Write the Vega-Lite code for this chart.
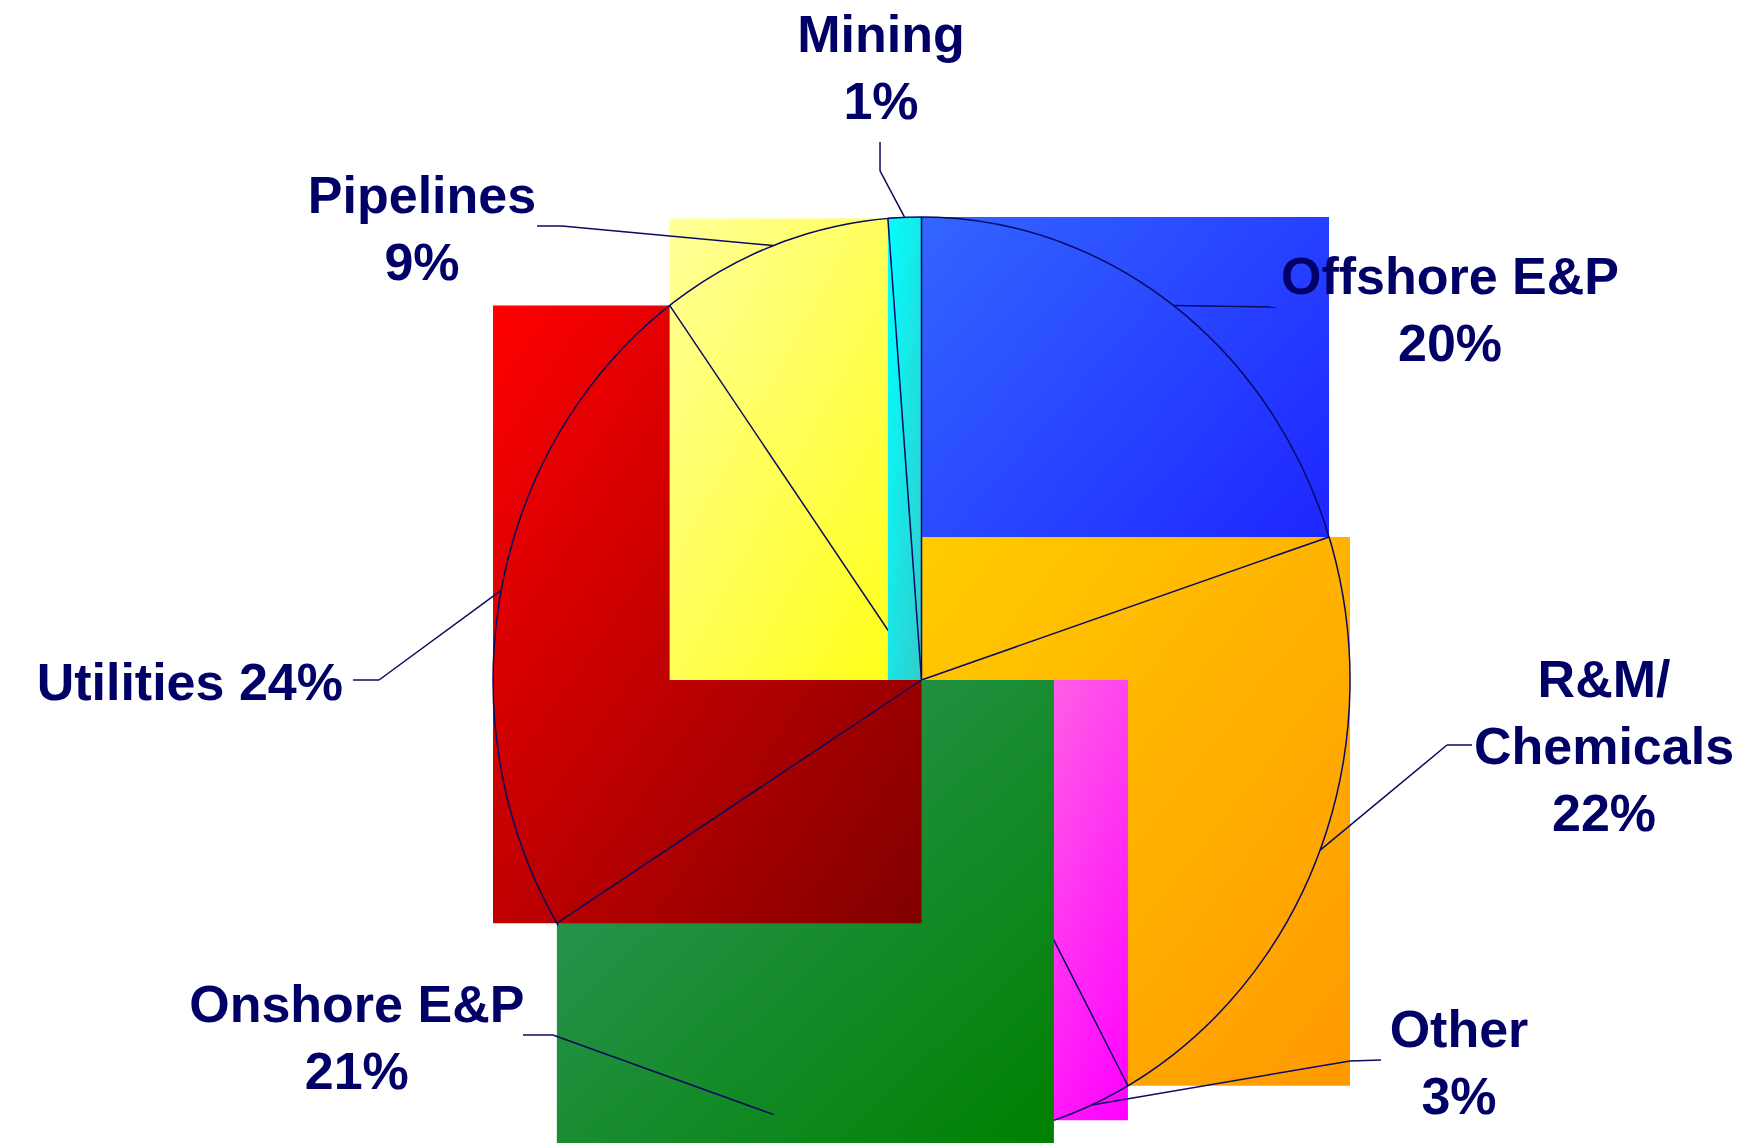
{
  "$schema": "https://vega.github.io/schema/vega-lite/v6.json",
  "width": 1745,
  "height": 1143,
  "padding": 0,
  "autosize": {"type": "none"},
  "background": "white",
  "config": {"view": {"stroke": null}},
  "datasets": {
    "slices": [
      {"slice": "Offshore E&P", "order": 1, "value": 20, "label": "Offshore E&P|20%", "lx": 1.2334, "ly": 0.8337, "ex": 0.8273, "ey": 0.8056, "hx": 0.8273, "hy": 0.8056},
      {"slice": "R&M/Chemicals", "order": 2, "value": 22, "label": "R&M/|Chemicals|22%", "lx": 1.5928, "ly": -0.0367, "ex": 1.2264, "ey": -0.1404, "hx": 1.2847, "hy": -0.1404},
      {"slice": "Other", "order": 3, "value": 3, "label": "Other|3%", "lx": 1.2544, "ly": -0.7927, "ex": 1.0, "ey": -0.8229, "hx": 1.0723, "hy": -0.8207},
      {"slice": "Onshore E&P", "order": 4, "value": 21.2, "label": "Onshore E&P|21%", "lx": -1.3179, "ly": -0.7387, "ex": -0.86, "ey": -0.7667, "hx": -0.93, "hy": -0.7667},
      {"slice": "Utilities", "order": 5, "value": 23.8, "label": "Utilities 24%", "lx": -1.3501, "ly": -0.0432, "ex": -1.266, "ey": 0, "hx": -1.3268, "hy": 0},
      {"slice": "Pipelines", "order": 6, "value": 8.75, "label": "Pipelines|9%", "lx": -1.1657, "ly": 1.0086, "ex": -0.839, "ey": 0.9806, "hx": -0.8973, "hy": 0.9806},
      {"slice": "Mining", "order": 7, "value": 1.25, "label": "Mining|1%", "lx": -0.0945, "ly": 1.3564, "ex": -0.0968, "ey": 1.0994, "hx": -0.0968, "hy": 1.162}
    ]
  },
  "data": {"name": "slices"},
  "transform": [
    {"window": [{"op": "sum", "field": "value", "as": "cum"}], "sort": [{"field": "order", "order": "ascending"}], "frame": [null, 0]},
    {"calculate": "(datum.cum - datum.value) * PI / 50", "as": "a0"},
    {"calculate": "datum.cum * PI / 50", "as": "a1"},
    {"calculate": "min(0, sin(datum.a0), sin(datum.a1), (datum.a0 < 1.5 * PI && datum.a1 > 1.5 * PI) ? -1 : 0)", "as": "bx0"},
    {"calculate": "max(0, sin(datum.a0), sin(datum.a1), (datum.a0 < 0.5 * PI && datum.a1 > 0.5 * PI) ? 1 : 0)", "as": "bx1"},
    {"calculate": "min(0, cos(datum.a0), cos(datum.a1), (datum.a0 < PI && datum.a1 > PI) ? -1 : 0)", "as": "by0"},
    {"calculate": "max(0, cos(datum.a0), cos(datum.a1))", "as": "by1"},
    {"calculate": "sin(datum.a0)", "as": "sx0"},
    {"calculate": "cos(datum.a0)", "as": "sy0"},
    {"calculate": "sin((datum.a0 + datum.a1) / 2)", "as": "mx"},
    {"calculate": "cos((datum.a0 + datum.a1) / 2)", "as": "my"},
    {"calculate": "0", "as": "c0"}
  ],
  "layer": [
    {
      "transform": [{"filter": {"field": "slice", "equal": "Offshore E&P"}}],
      "mark": {"type": "rect", "fill": {"gradient": "linear", "x1": 0, "y1": 0, "x2": 1, "y2": 1, "stops": [{"offset": 0, "color": "#3366ff"}, {"offset": 1, "color": "#1a1aff"}]}},
      "encoding": {
        "x": {"field": "bx0", "type": "quantitative", "scale": {"domain": [-2.15053, 1.92182], "nice": false, "zero": false}, "axis": null},
        "x2": {"field": "bx1"},
        "y": {"field": "by0", "type": "quantitative", "scale": {"domain": [-1.0, 1.46868], "nice": false, "zero": false}, "axis": null},
        "y2": {"field": "by1"}
      }
    },
    {
      "transform": [{"filter": {"field": "slice", "equal": "R&M/Chemicals"}}],
      "mark": {"type": "rect", "fill": {"gradient": "linear", "x1": 0, "y1": 0, "x2": 1, "y2": 1, "stops": [{"offset": 0, "color": "#ffcc00"}, {"offset": 1, "color": "#ff9900"}]}},
      "encoding": {
        "x": {"field": "bx0", "type": "quantitative", "scale": {"domain": [-2.15053, 1.92182], "nice": false, "zero": false}, "axis": null},
        "x2": {"field": "bx1"},
        "y": {"field": "by0", "type": "quantitative", "scale": {"domain": [-1.0, 1.46868], "nice": false, "zero": false}, "axis": null},
        "y2": {"field": "by1"}
      }
    },
    {
      "transform": [{"filter": {"field": "slice", "equal": "R&M/Chemicals"}}],
      "mark": {"type": "rule", "color": "#0a0a60", "strokeWidth": 1.5},
      "encoding": {
        "x": {"field": "c0", "type": "quantitative", "scale": {"domain": [-2.15053, 1.92182], "nice": false, "zero": false}, "axis": null},
        "y": {"field": "c0", "type": "quantitative", "scale": {"domain": [-1.0, 1.46868], "nice": false, "zero": false}, "axis": null},
        "x2": {"field": "sx0"},
        "y2": {"field": "sy0"}
      }
    },
    {
      "transform": [{"filter": {"field": "slice", "equal": "Other"}}],
      "mark": {"type": "rect", "fill": {"gradient": "linear", "x1": 0, "y1": 0, "x2": 1, "y2": 1, "stops": [{"offset": 0, "color": "#ff8ada"}, {"offset": 1, "color": "#ff00ff"}]}},
      "encoding": {
        "x": {"field": "bx0", "type": "quantitative", "scale": {"domain": [-2.15053, 1.92182], "nice": false, "zero": false}, "axis": null},
        "x2": {"field": "bx1"},
        "y": {"field": "by0", "type": "quantitative", "scale": {"domain": [-1.0, 1.46868], "nice": false, "zero": false}, "axis": null},
        "y2": {"field": "by1"}
      }
    },
    {
      "transform": [{"filter": {"field": "slice", "equal": "Other"}}],
      "mark": {"type": "rule", "color": "#0a0a60", "strokeWidth": 1.5},
      "encoding": {
        "x": {"field": "c0", "type": "quantitative", "scale": {"domain": [-2.15053, 1.92182], "nice": false, "zero": false}, "axis": null},
        "y": {"field": "c0", "type": "quantitative", "scale": {"domain": [-1.0, 1.46868], "nice": false, "zero": false}, "axis": null},
        "x2": {"field": "sx0"},
        "y2": {"field": "sy0"}
      }
    },
    {
      "transform": [{"filter": {"field": "slice", "equal": "Onshore E&P"}}],
      "mark": {"type": "rect", "fill": {"gradient": "linear", "x1": 0, "y1": 0, "x2": 1, "y2": 1, "stops": [{"offset": 0, "color": "#339966"}, {"offset": 1, "color": "#008000"}]}},
      "encoding": {
        "x": {"field": "bx0", "type": "quantitative", "scale": {"domain": [-2.15053, 1.92182], "nice": false, "zero": false}, "axis": null},
        "x2": {"field": "bx1"},
        "y": {"field": "by0", "type": "quantitative", "scale": {"domain": [-1.0, 1.46868], "nice": false, "zero": false}, "axis": null},
        "y2": {"field": "by1"}
      }
    },
    {
      "transform": [{"filter": {"field": "slice", "equal": "Utilities"}}],
      "mark": {"type": "rect", "fill": {"gradient": "linear", "x1": 0, "y1": 0, "x2": 1, "y2": 1, "stops": [{"offset": 0, "color": "#ff0000"}, {"offset": 1, "color": "#800000"}]}},
      "encoding": {
        "x": {"field": "bx0", "type": "quantitative", "scale": {"domain": [-2.15053, 1.92182], "nice": false, "zero": false}, "axis": null},
        "x2": {"field": "bx1"},
        "y": {"field": "by0", "type": "quantitative", "scale": {"domain": [-1.0, 1.46868], "nice": false, "zero": false}, "axis": null},
        "y2": {"field": "by1"}
      }
    },
    {
      "transform": [{"filter": {"field": "slice", "equal": "Utilities"}}],
      "mark": {"type": "rule", "color": "#0a0a60", "strokeWidth": 1.5},
      "encoding": {
        "x": {"field": "c0", "type": "quantitative", "scale": {"domain": [-2.15053, 1.92182], "nice": false, "zero": false}, "axis": null},
        "y": {"field": "c0", "type": "quantitative", "scale": {"domain": [-1.0, 1.46868], "nice": false, "zero": false}, "axis": null},
        "x2": {"field": "sx0"},
        "y2": {"field": "sy0"}
      }
    },
    {
      "transform": [{"filter": {"field": "slice", "equal": "Pipelines"}}],
      "mark": {"type": "rect", "fill": {"gradient": "linear", "x1": 0, "y1": 0, "x2": 1, "y2": 1, "stops": [{"offset": 0, "color": "#ffff99"}, {"offset": 1, "color": "#ffff11"}]}},
      "encoding": {
        "x": {"field": "bx0", "type": "quantitative", "scale": {"domain": [-2.15053, 1.92182], "nice": false, "zero": false}, "axis": null},
        "x2": {"field": "bx1"},
        "y": {"field": "by0", "type": "quantitative", "scale": {"domain": [-1.0, 1.46868], "nice": false, "zero": false}, "axis": null},
        "y2": {"field": "by1"}
      }
    },
    {
      "transform": [{"filter": {"field": "slice", "equal": "Pipelines"}}],
      "mark": {"type": "rule", "color": "#0a0a60", "strokeWidth": 1.5},
      "encoding": {
        "x": {"field": "c0", "type": "quantitative", "scale": {"domain": [-2.15053, 1.92182], "nice": false, "zero": false}, "axis": null},
        "y": {"field": "c0", "type": "quantitative", "scale": {"domain": [-1.0, 1.46868], "nice": false, "zero": false}, "axis": null},
        "x2": {"field": "sx0"},
        "y2": {"field": "sy0"}
      }
    },
    {
      "transform": [{"filter": {"field": "slice", "equal": "Mining"}}],
      "mark": {"type": "rect", "fill": {"gradient": "linear", "x1": 0, "y1": 0, "x2": 1, "y2": 1, "stops": [{"offset": 0, "color": "#00ffff"}, {"offset": 1, "color": "#33cccc"}]}},
      "encoding": {
        "x": {"field": "bx0", "type": "quantitative", "scale": {"domain": [-2.15053, 1.92182], "nice": false, "zero": false}, "axis": null},
        "x2": {"field": "bx1"},
        "y": {"field": "by0", "type": "quantitative", "scale": {"domain": [-1.0, 1.46868], "nice": false, "zero": false}, "axis": null},
        "y2": {"field": "by1"}
      }
    },
    {
      "transform": [{"filter": {"field": "slice", "oneOf": ["Mining", "Offshore E&P"]}}],
      "mark": {"type": "rule", "color": "#0a0a60", "strokeWidth": 1.5},
      "encoding": {
        "x": {"field": "c0", "type": "quantitative", "scale": {"domain": [-2.15053, 1.92182], "nice": false, "zero": false}, "axis": null},
        "y": {"field": "c0", "type": "quantitative", "scale": {"domain": [-1.0, 1.46868], "nice": false, "zero": false}, "axis": null},
        "x2": {"field": "sx0"},
        "y2": {"field": "sy0"}
      }
    },
    {
      "transform": [{"filter": {"field": "slice", "equal": "Mining"}}],
      "mark": {"type": "point", "shape": "M-0.7848,0.5299A0.92549,1,0,1,1,0.2860,0.9511", "size": 857476, "filled": false, "opacity": 1, "color": "#0a0a60", "strokeWidth": 1.5},
      "encoding": {
        "x": {"field": "c0", "type": "quantitative", "scale": {"domain": [-2.15053, 1.92182], "nice": false, "zero": false}, "axis": null},
        "y": {"field": "c0", "type": "quantitative", "scale": {"domain": [-1.0, 1.46868], "nice": false, "zero": false}, "axis": null}
      }
    },
    {
      "mark": {"type": "rule", "color": "#0a0a60", "strokeWidth": 1.5},
      "encoding": {
        "x": {"field": "mx", "type": "quantitative", "scale": {"domain": [-2.15053, 1.92182], "nice": false, "zero": false}, "axis": null},
        "y": {"field": "my", "type": "quantitative", "scale": {"domain": [-1.0, 1.46868], "nice": false, "zero": false}, "axis": null},
        "x2": {"field": "ex"},
        "y2": {"field": "ey"}
      }
    },
    {
      "mark": {"type": "rule", "color": "#0a0a60", "strokeWidth": 1.5},
      "encoding": {
        "x": {"field": "ex", "type": "quantitative", "scale": {"domain": [-2.15053, 1.92182], "nice": false, "zero": false}, "axis": null},
        "y": {"field": "ey", "type": "quantitative", "scale": {"domain": [-1.0, 1.46868], "nice": false, "zero": false}, "axis": null},
        "x2": {"field": "hx"},
        "y2": {"field": "hy"}
      }
    },
    {
      "transform": [{"filter": {"not": {"field": "slice", "equal": "Utilities"}}}],
      "mark": {"type": "text", "align": "center", "baseline": "alphabetic", "font": "Liberation Sans", "fontWeight": "bold", "fontSize": 52, "lineHeight": 67, "lineBreak": "|", "color": "#000066"},
      "encoding": {
        "x": {"field": "lx", "type": "quantitative", "scale": {"domain": [-2.15053, 1.92182], "nice": false, "zero": false}, "axis": null},
        "y": {"field": "ly", "type": "quantitative", "scale": {"domain": [-1.0, 1.46868], "nice": false, "zero": false}, "axis": null},
        "text": {"field": "label", "type": "nominal"}
      }
    },
    {
      "transform": [{"filter": {"field": "slice", "equal": "Utilities"}}],
      "mark": {"type": "text", "align": "right", "baseline": "alphabetic", "font": "Liberation Sans", "fontWeight": "bold", "fontSize": 52, "lineHeight": 67, "lineBreak": "|", "color": "#000066"},
      "encoding": {
        "x": {"field": "lx", "type": "quantitative", "scale": {"domain": [-2.15053, 1.92182], "nice": false, "zero": false}, "axis": null},
        "y": {"field": "ly", "type": "quantitative", "scale": {"domain": [-1.0, 1.46868], "nice": false, "zero": false}, "axis": null},
        "text": {"field": "label", "type": "nominal"}
      }
    }
  ]
}
